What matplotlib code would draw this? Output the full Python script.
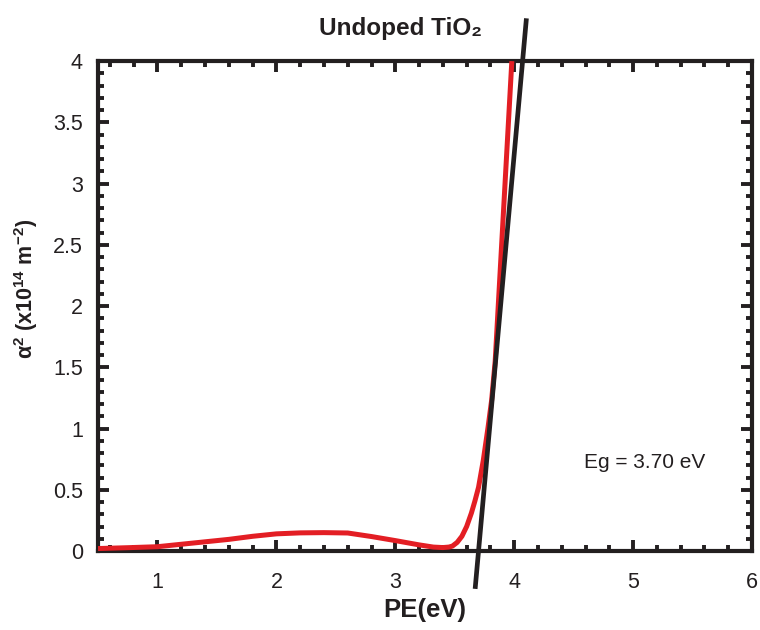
import matplotlib
matplotlib.use("Agg")
import matplotlib.pyplot as plt
from matplotlib.ticker import MultipleLocator

plt.rcParams['font.family'] = ['Liberation Sans', 'DejaVu Sans']
plt.rcParams['mathtext.fontset'] = 'custom'
plt.rcParams['mathtext.rm'] = 'Liberation Sans'
plt.rcParams['mathtext.bf'] = 'Liberation Sans:bold'
plt.rcParams['mathtext.it'] = 'Liberation Sans:italic'

# Data
pe = [0.5, 0.75, 1.0, 1.2, 1.4, 1.6, 1.8, 2.0, 2.2, 2.4, 2.6, 2.8, 3.0, 3.2,
      3.32, 3.40, 3.45, 3.48, 3.52, 3.56, 3.60, 3.64, 3.67, 3.70, 3.74, 3.78,
      3.81, 3.84, 3.86, 3.92, 3.98]
alpha2 = [0.02, 0.027, 0.035, 0.055, 0.075, 0.095, 0.12, 0.14, 0.148, 0.15, 0.147,
          0.118, 0.085, 0.05, 0.032, 0.028, 0.032, 0.04, 0.07, 0.12, 0.20, 0.31,
          0.41, 0.52, 0.74, 1.01, 1.23, 1.55, 1.9, 2.95, 4.0]

fit_y = [-0.29, 4.33]
eg = 3.70
fit_slope = 10.8  # per eV

red = '#e31e24'
black = '#231f20'

fig = plt.figure(figsize=(7.6, 6.3), dpi=100)
ax = fig.add_axes([0.129, 0.1254, 0.8605, 0.7776])

ax.plot(pe, alpha2, color=red, lw=3.6, solid_capstyle='butt',
        solid_joinstyle='round', zorder=3)
fit_x = [eg + yy / fit_slope for yy in fit_y]
ax.plot(fit_x, fit_y, color=black, lw=3.4, clip_on=False, zorder=4)

ax.set_xlim(0.5, 6)
ax.set_ylim(0, 4)
ax.xaxis.set_minor_locator(MultipleLocator(0.2))
ax.yaxis.set_minor_locator(MultipleLocator(0.1))
ax.set_xticks([1, 2, 3, 4, 5, 6])
ax.set_xticklabels(['1', '2', '3', '4', '5', '6'])
ax.set_yticks([0, 0.5, 1, 1.5, 2, 2.5, 3, 3.5, 4])
ax.set_yticklabels(['0', '0.5', '1', '1.5', '2', '2.5', '3', '3.5', '4'])

for s in ax.spines.values():
    s.set_linewidth(3.0)
    s.set_color(black)

ax.tick_params(which='both', direction='in', top=True, right=True,
               color=black, width=2.8, labelsize=15.5, labelcolor='#231f20')
ax.tick_params(which='major', length=8)
ax.tick_params(which='minor', length=4.5)
ax.tick_params(axis='x', which='major', pad=15)
ax.tick_params(axis='y', which='major', pad=11)

ax.set_xlabel('PE(eV)', fontsize=18.5, fontweight='bold', color=black, labelpad=4)
ax.set_ylabel(r'$\mathbf{\alpha^2\ (x10^{14}\ m^{-2})}$', fontsize=15.5, color=black)
ax.yaxis.set_label_coords(-0.088, 0.535)

fig.text(0.527, 0.955, 'Undoped TiO₂', fontsize=17.5, fontweight='bold', color=black,
         ha='center', va='center')
ax.text(4.59, 0.72, 'Eg = 3.70 eV', fontsize=15, color=black, ha='left', va='center')

fig.savefig('out.png', dpi=100)
